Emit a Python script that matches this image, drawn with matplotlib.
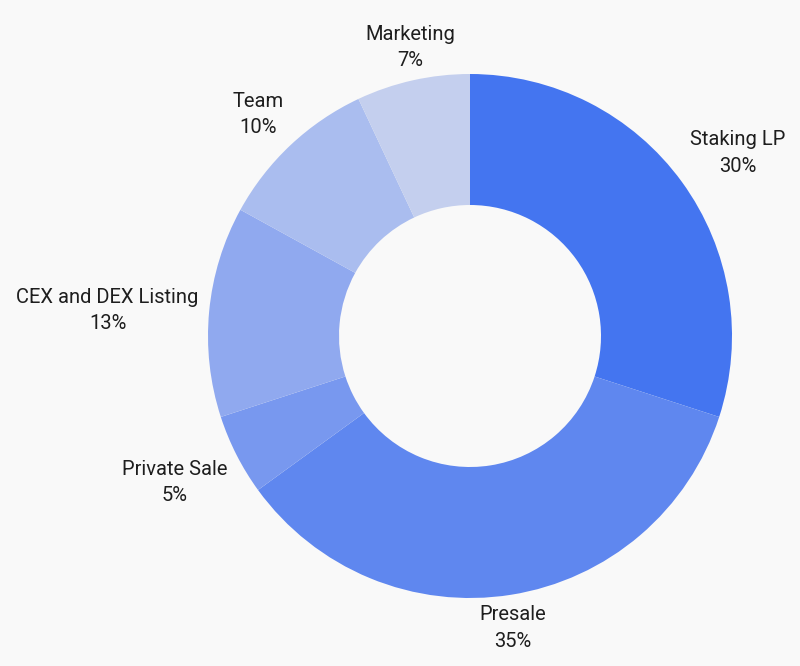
import numpy as np
import matplotlib
matplotlib.use("Agg")
import matplotlib.pyplot as plt

# Token allocation
labels = ["Staking LP", "Presale", "Private Sale", "CEX and DEX Listing", "Team", "Marketing"]
shares = [30, 35, 5, 13, 10, 7]
colors = ["#4475F0", "#5F87EF", "#7898EF", "#90A9EF", "#AABDEF", "#C4CFEE"]

plt.rcParams['font.family'] = ['Roboto', 'DejaVu Sans']

W, H, dpi = 800, 666, 100
cx, cy, R = 470, 336, 262  # pixel centre / radius of the donut

fig = plt.figure(figsize=(W / dpi, H / dpi), dpi=dpi, facecolor="#F9F9F9")
ax = fig.add_axes([0, 0, 1, 1])
ax.set_facecolor("#F9F9F9")

wedges, _ = ax.pie(shares, colors=colors, startangle=90, counterclock=False,
                   radius=1, wedgeprops=dict(width=0.5, linewidth=0))

ax.set_xlim(-cx / R, (W - cx) / R)
ax.set_ylim(-(H - cy) / R, cy / R)
ax.axis("off")

for w, lab, s in zip(wedges, labels, shares):
    ang = np.deg2rad((w.theta1 + w.theta2) / 2)
    c, sn = np.cos(ang), np.sin(ang)
    x, y = 1.04 * c, 1.04 * sn
    if abs(c) < 0.3:
        ha = "center"
    elif c > 0:
        ha = "left"
    else:
        ha = "right"
    if sn > 0.3:
        va = "bottom"
    elif sn < -0.3:
        va = "top"
    else:
        va = "center"
    ax.text(x, y, f"{lab}\n{s}%", ha=ha, va=va, multialignment="center",
            fontsize=14.5, color="#1E1E1E", linespacing=1.5)

fig.savefig("out.png", dpi=dpi, facecolor=fig.get_facecolor())
